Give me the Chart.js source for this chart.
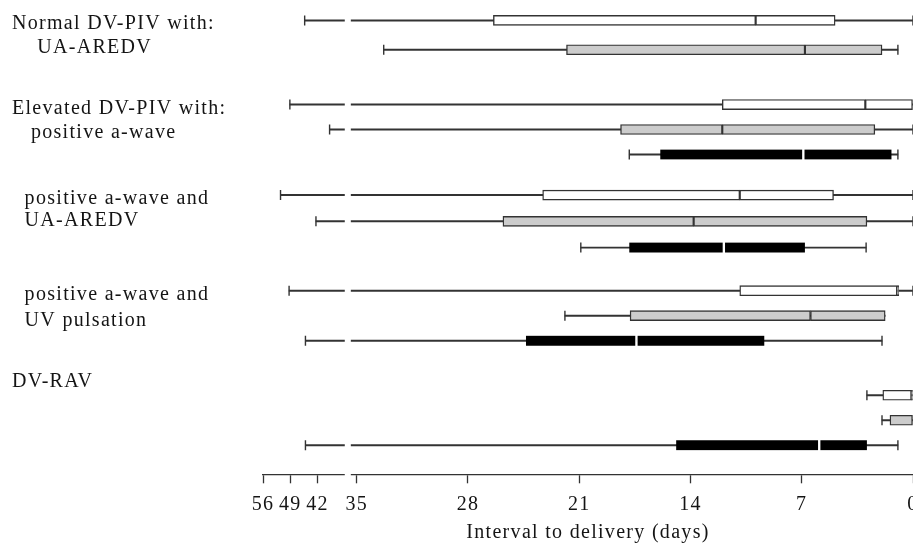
<!DOCTYPE html>
<html>
<head>
<meta charset="utf-8">
<title>Interval to delivery</title>
<script src="https://cdn.jsdelivr.net/npm/chart.js@4.4.1/dist/chart.umd.min.js"></script>
<style>
    html, body { margin: 0; padding: 0; background: #fff; }
    #wrap { width: 913px; height: 546px; }
</style>
</head>
<body>
<div id="wrap"><canvas id="chart" width="913" height="546"></canvas></div>
<script>
// ============================================================
// Interval to delivery by Doppler finding — horizontal box plots
// ============================================================

// Group labels (one entry per text line, leading spaces = indent)
var groupLabels = [
    ['Normal DV-PIV with:', '    UA-AREDV'],
    ['Elevated DV-PIV with:', '   positive a-wave'],
    ['  positive a-wave and', '  UA-AREDV'],
    ['  positive a-wave and', '  UV pulsation'],
    ['DV-RAV']
];

// Box stats in days: [upper whisker, upper quartile, median, lower quartile, lower whisker]
var whiteBoxes = [
    [45.3, 26.4, 9.9, 4.9, 0],
    [49.1, 12.0, 3.0, 0, 0],
    [51.5, 23.3, 10.9, 5.0, 0],
    [49.3, 10.9, 1.0, 0.9, 0],
    [2.9, 1.9, 0.1, 0, 0]
];
var grayBoxes = [
    [33.3, 21.8, 6.8, 1.95, 0.95],
    [38.9, 18.4, 12.0, 2.4, 0],
    [42.4, 25.8, 13.8, 2.9, 0],
    [21.9, 17.8, 6.45, 1.75, 1.75],
    [1.95, 1.45, 0, 0, 0]
];
var blackBoxes = [
    null,
    [17.85, 15.9, 6.9, 1.35, 0.95],
    [20.9, 17.85, 11.9, 6.8, 2.95],
    [45.1, 24.35, 17.4, 9.35, 1.95],
    [45.1, 14.9, 5.9, 2.9, 0.95]
];

var tickDays = [56, 49, 42, 35, 28, 21, 14, 7, 0];

// ---- layout of the rows (y axis units) ----
var groupStart = [0.8, 4.1, 7.65, 11.4, 15.5];
var rowStep = [1.15, 0.98, 1.03, 0.98, 0.98];
// label line offsets from the group start
var labelOffset = [[0.15, 1.08], [0.15, 1.09], [0.14, 0.99], [0.17, 1.17], [-0.52]];

// ---- broken axis: days beyond 35 are squeezed ----
var BREAK_AT = 35;
var GAP_START = 35.37;   // right segment resumes here
var SQUEEZE_START = 35.75;
var SQUEEZE = 0.245;

function toU(d) {
    return d <= BREAK_AT ? d : SQUEEZE_START + (d - BREAK_AT) * SQUEEZE;
}

function rowY(g, s) {
    return groupStart[g] + s * rowStep[g];
}

var INK = '#141414';
var LINE = '#333333';
var FONT = { family: "'Liberation Serif', 'Times New Roman', serif", size: 20 };

// y tick positions and texts for the left-hand labels
var labelPos = [];
var labelText = [];
groupLabels.forEach(function(lines, g) {
    lines.forEach(function(txt, i) {
        labelPos.push(groupStart[g] + labelOffset[g][i]);
        labelText.push(txt);
    });
});

var series = [
    { stats: whiteBoxes, fill: '#ffffff', split: false },
    { stats: grayBoxes, fill: '#cccccc', split: false },
    { stats: blackBoxes, fill: '#000000', split: true }
];

var datasets = [];

series.forEach(function(ser, s) {
    var whiskers = [], caps = [], leftHalf = [], rightHalf = [];
    ser.stats.forEach(function(b, g) {
        if (!b) return;
        var y = rowY(g, s);
        whiskers.push({ x: [toU(b[0]), toU(b[4])], y: y });
        if (b[0] !== b[1]) caps.push({ x: toU(b[0]), y: y });
        if (b[4] !== b[3]) caps.push({ x: toU(b[4]), y: y });
        leftHalf.push({ x: [toU(b[1]), toU(b[2])], y: y });
        if (b[2] !== b[3]) rightHalf.push({ x: [toU(b[2]), toU(b[3])], y: y });
    });

    datasets.push({
        type: 'bar',
        indexAxis: 'y',
        data: whiskers,
        grouped: false,
        barThickness: 1.3,
        backgroundColor: LINE,
        borderWidth: 0,
        order: 3
    });
    datasets.push({
        type: 'scatter',
        data: caps,
        pointStyle: 'line',
        rotation: 90,
        radius: 5,
        borderWidth: 1.4,
        borderColor: LINE,
        order: 2
    });
    datasets.push({
        type: 'bar',
        indexAxis: 'y',
        data: leftHalf,
        grouped: false,
        barThickness: 10,
        backgroundColor: ser.fill,
        borderColor: ser.split ? '#ffffff' : LINE,
        borderWidth: ser.split ? { top: 0, bottom: 0, left: 0, right: 1.5 } : 1.4,
        borderSkipped: false,
        order: 1
    });
    datasets.push({
        type: 'bar',
        indexAxis: 'y',
        data: rightHalf,
        grouped: false,
        barThickness: 10,
        backgroundColor: ser.fill,
        borderColor: ser.split ? '#ffffff' : LINE,
        borderWidth: ser.split ? { top: 0, bottom: 0, left: 1.5, right: 0 } : 1.4,
        borderSkipped: false,
        order: 1
    });
});

// wider letter spacing, closer to the original book face
var textSpacing = {
    id: 'textSpacing',
    beforeDraw: function(chart) {
        chart.ctx.letterSpacing = '1.3px';
    }
};

// white strip that opens the axis break
var axisBreak = {
    id: 'axisBreak',
    afterDatasetsDraw: function(chart) {
        var x = chart.scales.x;
        var area = chart.chartArea;
        var x1 = x.getPixelForValue(SQUEEZE_START);
        var x2 = x.getPixelForValue(GAP_START);
        var ctx = chart.ctx;
        ctx.save();
        ctx.fillStyle = '#ffffff';
        ctx.fillRect(Math.min(x1, x2), area.top, Math.abs(x2 - x1), area.bottom - area.top + 2);
        ctx.restore();
    }
};

new Chart(document.getElementById('chart').getContext('2d'), {
    type: 'bar',
    data: { datasets: datasets },
    plugins: [textSpacing, axisBreak],
    options: {
        responsive: false,
        animation: false,
        devicePixelRatio: 1,
        layout: { autoPadding: false, padding: { left: 12, right: 0, top: 0, bottom: 0 } },
        plugins: {
            legend: { display: false },
            tooltip: { enabled: false }
        },
        scales: {
            x: {
                type: 'linear',
                reverse: true,
                offset: false,
                min: 0,
                max: toU(56),
                afterBuildTicks: function(scale) {
                    scale.ticks = tickDays.map(function(d) { return { value: toU(d) }; });
                },
                ticks: {
                    autoSkip: false,
                    maxRotation: 0,
                    padding: 9,
                    color: INK,
                    font: FONT,
                    callback: function(v, i) { return String(tickDays[i]); }
                },
                grid: {
                    offset: false,
                    drawOnChartArea: false,
                    drawTicks: true,
                    tickLength: 9,
                    tickColor: LINE,
                    tickWidth: 1.3
                },
                border: { display: true, color: LINE, width: 1.3 },
                title: {
                    display: true,
                    text: 'Interval to delivery (days)',
                    color: INK,
                    font: FONT,
                    padding: { top: 2, bottom: 1 }
                },
                afterFit: function(scale) {
                    scale.height = 71.7;
                    scale.paddingLeft = 0;
                    scale.paddingRight = 0;
                }
            },
            y: {
                type: 'linear',
                reverse: true,
                offset: false,
                min: 0,
                max: 18.6,
                afterBuildTicks: function(scale) {
                    scale.ticks = labelPos.map(function(p) { return { value: p }; });
                },
                ticks: {
                    autoSkip: false,
                    crossAlign: 'far',
                    padding: 0,
                    color: INK,
                    font: FONT,
                    callback: function(v, i) { return labelText[i]; }
                },
                grid: { display: false, offset: false },
                border: { display: false },
                afterFit: function(scale) {
                    scale.width = 251;
                    scale.paddingTop = 0;
                    scale.paddingBottom = 0;
                }
            }
        }
    }
});
</script>
</body>
</html>
